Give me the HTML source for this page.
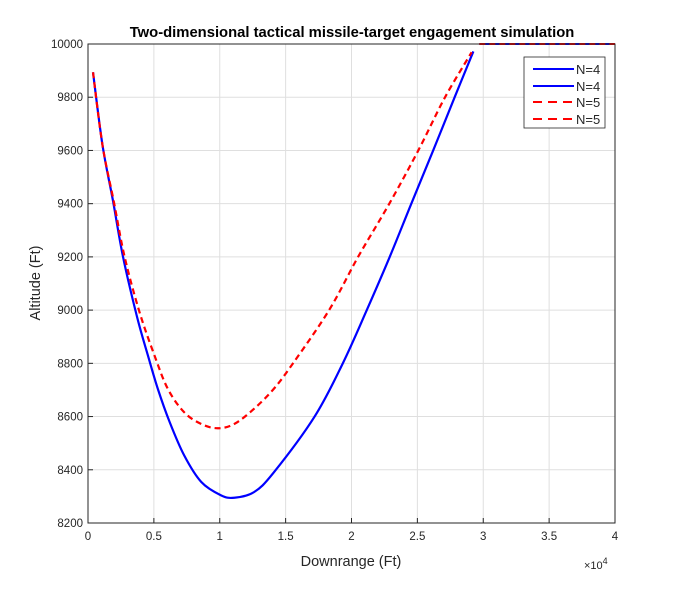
<!DOCTYPE html>
<html><head><meta charset="utf-8"><style>
body{margin:0;background:#fff;}
svg text{font-family:"Liberation Sans",sans-serif;fill:#262626;}
</style></head><body>
<svg id="chart" width="681" height="590" viewBox="0 0 681 590">
<rect x="0" y="0" width="681" height="590" fill="#fff"/>
<text x="352" y="37" text-anchor="middle" font-size="14.8" font-weight="bold" style="fill:#000">Two-dimensional tactical missile-target engagement simulation</text>
<g id="grid"></g>
<g id="series"></g>
<rect x="88" y="44" width="527" height="479" fill="none" stroke="#262626" stroke-width="1"/>
<g id="ticks"></g>
<text x="351" y="566" text-anchor="middle" font-size="14.5">Downrange (Ft)</text>
<text transform="translate(40,283) rotate(-90)" text-anchor="middle" font-size="14.5">Altitude (Ft)</text>
<text x="584" y="569" font-size="11">×10<tspan dy="-5" font-size="9">4</tspan></text>
<g>
<rect x="524" y="57" width="81" height="71" fill="#fff" stroke="#262626" stroke-width="0.8"/>
<line x1="533" y1="69" x2="574" y2="69" stroke="#0000ff" stroke-width="2"/>
<text x="576" y="74" font-size="13">N=4</text>
<line x1="533" y1="86" x2="574" y2="86" stroke="#0000ff" stroke-width="2"/>
<text x="576" y="91" font-size="13">N=4</text>
<line x1="533" y1="102" x2="574" y2="102" stroke="#ff0000" stroke-width="2" stroke-dasharray="9,6"/>
<text x="576" y="107" font-size="13">N=5</text>
<line x1="533" y1="119" x2="574" y2="119" stroke="#ff0000" stroke-width="2" stroke-dasharray="9,6"/>
<text x="576" y="124" font-size="13">N=5</text>
</g>
</svg>
<script>
const xTicks=[0,0.5,1,1.5,2,2.5,3,3.5,4];
const xTickLabels=["0","0.5","1","1.5","2","2.5","3","3.5","4"];
const yTicks=[8200,8400,8600,8800,9000,9200,9400,9600,9800,10000];
const yTickLabels=["8200","8400","8600","8800","9000","9200","9400","9600","9800","10000"];
const n4X=[0.038,0.11,0.19,0.266,0.372,0.455,0.53,0.62,0.73,0.86,1.01,1.11,1.26,1.41,1.72,1.934,2.116,2.29,2.454,2.62,2.783,2.925];
const n4Y=[9894,9620,9410,9200,8975,8829,8704,8579,8454,8354,8304,8295,8316,8390,8600,8800,9000,9200,9400,9600,9800,9972];
const n5X=[0.038,0.11,0.195,0.278,0.39,0.505,0.606,0.73,0.86,0.985,1.11,1.26,1.41,1.556,1.83,2.05,2.287,2.507,2.71,2.912];
const n5Y=[9894,9620,9410,9200,8994,8829,8704,8616,8572,8556,8572,8629,8704,8800,9000,9200,9400,9600,9800,9969];
const targetX=[2.97,4];
const targetY=[10000,10000];

const X0=88,X1=615,Y0=523,Y1=44;
function sx(v){return X0+(v-0)/(4-0)*(X1-X0);}
function sy(v){return Y0-(v-8200)/(10000-8200)*(Y0-Y1);}
const NS="http://www.w3.org/2000/svg";
const grid=document.getElementById('grid'),ticks=document.getElementById('ticks'),series=document.getElementById('series');
function mk(tag,attrs,parent){const e=document.createElementNS(NS,tag);for(const k in attrs)e.setAttribute(k,attrs[k]);parent.appendChild(e);return e;}
xTicks.forEach((t,i)=>{
  const x=sx(t);
  const g=mk('line',{x1:x,y1:Y1,x2:x,y2:Y0,stroke:'#dfdfdf','stroke-width':1},grid);
  
  
  const tk=mk('line',{x1:x,y1:Y0,x2:x,y2:Y0-5,stroke:'#262626'},ticks);
  
  
  const tx=mk('text',{x:x,y:Y0+17,'text-anchor':'middle','font-size':11.5},ticks);
  tx.textContent=xTickLabels[i];
  
  
});
yTicks.forEach((t,i)=>{
  const y=sy(t);
  const g=mk('line',{x1:X0,y1:y,x2:X1,y2:y,stroke:'#dfdfdf','stroke-width':1},grid);
  
  
  const tk=mk('line',{x1:X0,y1:y,x2:X0+5,y2:y,stroke:'#262626'},ticks);
  
  
  const tx=mk('text',{x:X0-5,y:y+4,'text-anchor':'end','font-size':11.5},ticks);
  tx.textContent=yTickLabels[i];
  
  
});
function pts(xs,ys){return xs.map((v,i)=>sx(v).toFixed(1)+','+sy(ys[i]).toFixed(1)).join(' ');}
function smooth(xs,ys){
  const p=xs.map((v,i)=>[sx(v),sy(ys[i])]);
  let d='M'+p[0][0]+','+p[0][1];
  for(let i=0;i<p.length-1;i++){
    const p0=p[i-1]||p[i],p1=p[i],p2=p[i+1],p3=p[i+2]||p2;
    const c1=[p1[0]+(p2[0]-p0[0])/6,p1[1]+(p2[1]-p0[1])/6];
    const c2=[p2[0]-(p3[0]-p1[0])/6,p2[1]-(p3[1]-p1[1])/6];
    d+=' C'+c1.join(',')+' '+c2.join(',')+' '+p2.join(',');
  }
  return d;
}
const t1=mk('polyline',{points:pts(targetX,targetY),fill:'none',stroke:'#0000ff','stroke-width':2},series);


const l4=mk('path',{d:smooth(n4X,n4Y),fill:'none',stroke:'#0000ff','stroke-width':2.2},series);


const l5=mk('path',{d:smooth(n5X,n5Y),fill:'none',stroke:'#ff0000','stroke-width':2.2,'stroke-dasharray':'6,4'},series);


const t2=mk('polyline',{points:pts(targetX,targetY),fill:'none',stroke:'#ff0000','stroke-width':2,'stroke-dasharray':'6,4'},series);


</script>
</body></html>
